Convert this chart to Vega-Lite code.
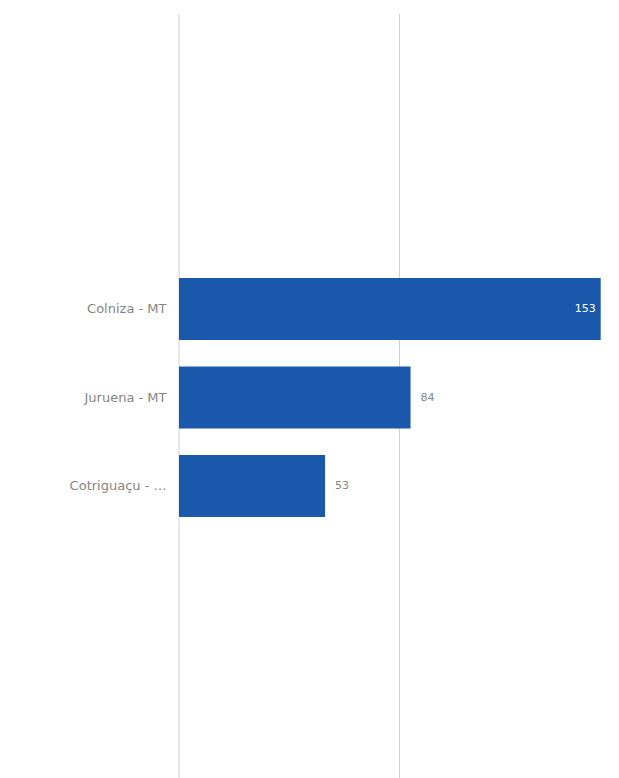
{
  "$schema": "https://vega.github.io/schema/vega-lite/v6.json",
  "autosize": "none",
  "padding": {"left": 179, "top": 14, "right": 0, "bottom": 0},
  "width": 441,
  "height": 770,
  "background": "white",
  "config": {
    "view": {"stroke": null},
    "font": "DejaVu Sans"
  },
  "datasets": {
    "barras": [
      {"municipio": "Colniza - MT", "valor": 153},
      {"municipio": "Juruena - MT", "valor": 84},
      {"municipio": "Cotriguaçu - MT", "valor": 53}
    ],
    "grade": [
      {"valor": 0},
      {"valor": 80},
      {"valor": 160}
    ]
  },
  "layer": [
    {
      "data": {"name": "grade"},
      "mark": {"type": "rule", "color": "#cfcfcf", "strokeWidth": 1},
      "encoding": {
        "x": {
          "field": "valor",
          "type": "quantitative",
          "scale": {"domain": [0, 160], "nice": false},
          "axis": null
        }
      }
    },
    {
      "data": {"name": "barras"},
      "encoding": {
        "y": {
          "field": "municipio",
          "type": "nominal",
          "sort": null,
          "scale": {"range": [264, 503], "paddingInner": 0.3, "paddingOuter": 0},
          "axis": {
            "title": null,
            "domain": false,
            "ticks": false,
            "grid": false,
            "labelPadding": 13,
            "labelLimit": 100,
            "labelFontSize": 13,
            "labelColor": "#858585",
            "labelFont": "DejaVu Sans"
          }
        },
        "x": {
          "field": "valor",
          "type": "quantitative",
          "scale": {"domain": [0, 160], "nice": false},
          "axis": null
        }
      },
      "layer": [
        {"mark": {"type": "bar", "color": "#1a58ab"}},
        {
          "transform": [{"filter": "datum.valor > 100"}],
          "mark": {"type": "text", "align": "right", "dx": -5, "fontSize": 11, "color": "#ffffff", "font": "DejaVu Sans"},
          "encoding": {"text": {"field": "valor", "type": "quantitative"}}
        },
        {
          "transform": [{"filter": "datum.valor <= 100"}],
          "mark": {"type": "text", "align": "left", "dx": 10, "fontSize": 11, "color": "#858585", "font": "DejaVu Sans"},
          "encoding": {"text": {"field": "valor", "type": "quantitative"}}
        }
      ]
    }
  ]
}
